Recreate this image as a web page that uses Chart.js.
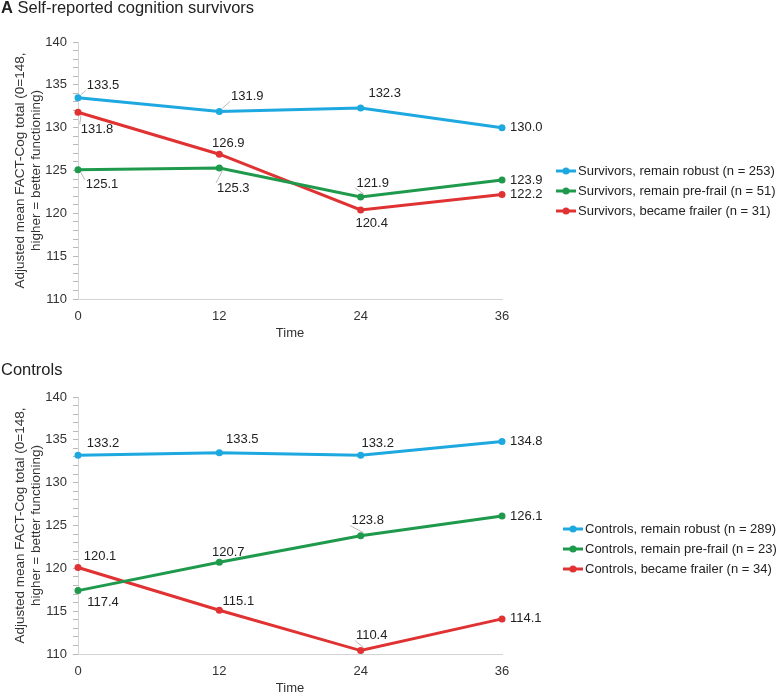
<!DOCTYPE html>
<html>
<head>
<meta charset="utf-8">
<script src="https://cdn.jsdelivr.net/npm/chart.js@4.4.0/dist/chart.umd.min.js"></script>
<style>
  html, body { margin: 0; padding: 0; background: #fff; width: 777px; height: 693px; overflow: hidden; font-family: "Liberation Sans", Arial, sans-serif; }
  .panel { position: absolute; left: 0; width: 777px; height: 345px; }
  .title { position: absolute; left: 1px; font-size: 16.5px; color: #222; z-index: 2; white-space: nowrap; }
</style>
</head>
<body>
<div class="title" style="top:-2px"><b>A</b> Self-reported cognition survivors</div>
<div class="title" style="top:360px">Controls</div>
<div class="panel" style="top:0"><canvas id="chartA" width="777" height="345"></canvas></div>
<div class="panel" style="top:355px"><canvas id="chartB" width="777" height="345"></canvas></div>
<script>
// data
const timepoints = [0, 12, 24, 36]
const survivorNames = ['Survivors, remain robust (n = 253)', 'Survivors, remain pre-frail (n = 51)', 'Survivors, became frailer (n = 31)']
const controlNames = ['Controls, remain robust (n = 289)', 'Controls, remain pre-frail (n = 23)', 'Controls, became frailer (n = 34)']
const survRobust = [133.5, 131.9, 132.3, 130.0]
const survPrefrail = [125.1, 125.3, 121.9, 123.9]
const survFrailer = [131.8, 126.9, 120.4, 122.2]
const ctrlRobust = [133.2, 133.5, 133.2, 134.8]
const ctrlPrefrail = [117.4, 120.7, 123.8, 126.1]
const ctrlFrailer = [120.1, 115.1, 110.4, 114.1]

const colors = ['#1ea8e0', '#1f9a4c', '#e03232']
const yTitle = ['Adjusted mean FACT-Cog total (0=148,', 'higher = better functioning)']

// where each value label sits relative to its point: [dx, dy, leader] or 'r' = right of point
const survPlaces = [
  [[25, -12, 1], [28, -15, 1], [24, -15], 'r'],
  [[24, 15, 1], [14, 20, 1], [12, -14, 1], 'r'],
  [[19, 17, 1], [9, -11], [11, 14], 'r']
]
const ctrlPlaces = [
  [[25, -12], [23, -13], [17, -12], 'r'],
  [[25, 12], [9, -10], [7, -15, 1], 'r'],
  [[22, -11], [19, -9], [11, -15, 1], 'r']
]

Chart.defaults.font.family = '"Liberation Sans", Arial, sans-serif'
Chart.defaults.font.size = 13
Chart.defaults.color = '#333'

const pointLabels = {
  id: 'pointLabels',
  afterDatasetsDraw(chart, args, opts) {
    const ctx = chart.ctx
    ctx.save()
    ctx.font = '13px "Liberation Sans", Arial, sans-serif'
    ctx.textBaseline = 'middle'
    chart.data.datasets.forEach((ds, i) => {
      chart.getDatasetMeta(i).data.forEach((pt, j) => {
        const place = opts.places[i][j]
        const text = ds.data[j].y.toFixed(1)
        const w = ctx.measureText(text).width
        let cx, cy
        if (place === 'r') {
          cx = pt.x + 8 + w / 2
          cy = pt.y
        } else {
          cx = pt.x + place[0]
          cy = pt.y + place[1]
          if (place[2]) {
            const ex = cx - w / 2 - 1
            const ey = cy + (place[1] < 0 ? 5 : -5)
            ctx.strokeStyle = '#a8a8a8'
            ctx.lineWidth = 0.8
            ctx.beginPath()
            ctx.moveTo(pt.x + 3, pt.y + (place[1] < 0 ? -3 : 3))
            ctx.lineTo(ex, ey)
            ctx.stroke()
          }
        }
        ctx.fillStyle = '#222'
        ctx.textAlign = 'center'
        ctx.fillText(text, cx, cy)
      })
    })
    ctx.restore()
  }
}

const sideLegend = {
  id: 'sideLegend',
  afterDraw(chart, args, opts) {
    const ctx = chart.ctx
    const y0 = chart.chartArea.top + opts.top
    ctx.save()
    ctx.font = '13px "Liberation Sans", Arial, sans-serif'
    ctx.textBaseline = 'middle'
    ctx.textAlign = 'left'
    chart.data.datasets.forEach((ds, i) => {
      const y = y0 + i * 20
      ctx.strokeStyle = ds.borderColor
      ctx.lineWidth = 3
      ctx.beginPath()
      ctx.moveTo(opts.x, y)
      ctx.lineTo(opts.x + 20, y)
      ctx.stroke()
      ctx.fillStyle = ds.borderColor
      ctx.beginPath()
      ctx.arc(opts.x + 10, y, 3.5, 0, Math.PI * 2)
      ctx.fill()
      ctx.fillStyle = '#222'
      ctx.fillText(ds.label, opts.x + 22, y)
    })
    ctx.restore()
  }
}

const makeSets = (names, series) => series.map((vals, i) => ({
  label: names[i],
  data: vals.map((v, k) => ({x: timepoints[k], y: v})),
  borderColor: colors[i],
  backgroundColor: colors[i],
  pointBackgroundColor: colors[i],
  borderWidth: 3,
  pointRadius: 3.5,
  pointBorderWidth: 0,
  tension: 0,
  clip: false
}))

const makeChart = (id, names, series, places, legendX, legendTop) => new Chart(
  document.getElementById(id),
  {
    type: 'line',
    data: {datasets: makeSets(names, series)},
    options: {
      responsive: false,
      animation: false,
      layout: {padding: {top: 42, right: 275, left: 0, bottom: 0}},
      scales: {
        x: {
          type: 'linear',
          min: 0,
          max: 36,
          afterFit: s => { s.height = 46 },
          ticks: {stepSize: 12, padding: 10, color: '#333'},
          grid: {display: false, drawTicks: false},
          border: {display: true, color: '#d4d4d4'},
          title: {display: true, text: 'Time', color: '#333', padding: {top: 0, bottom: 4}}
        },
        y: {
          min: 110,
          max: 140,
          afterFit: s => { s.width = 78 },
          ticks: {stepSize: 1, maxTicksLimit: 40, autoSkip: false, padding: 6, color: '#333',
            callback: v => v % 5 === 0 ? v : ''},
          grid: {drawOnChartArea: false, tickLength: 5, color: '#b8b8b8'},
          border: {color: '#d4d4d4'},
          title: {display: true, text: yTitle, color: '#333',
            font: {size: 13.5, lineHeight: '16px'}, padding: {top: 12, bottom: 0}}
        }
      },
      plugins: {
        legend: {display: false},
        tooltip: {enabled: false},
        pointLabels: {places: places},
        sideLegend: {x: legendX, top: legendTop}
      }
    },
    plugins: [pointLabels, sideLegend]
  }
)

makeChart('chartA', survivorNames, [survRobust, survPrefrail, survFrailer], survPlaces, 556, 129)
makeChart('chartB', controlNames, [ctrlRobust, ctrlPrefrail, ctrlFrailer], ctrlPlaces, 563, 132)
</script>
</body>
</html>
